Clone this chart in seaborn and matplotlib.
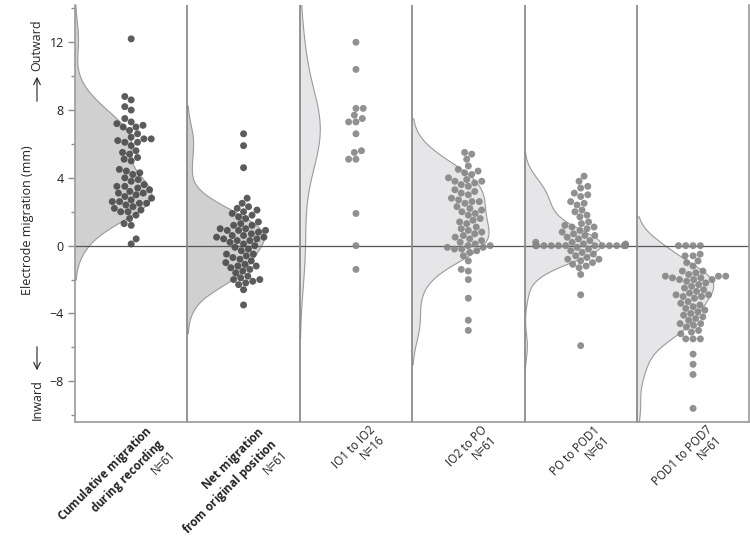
"""Electrode migration per interval: half violins with swarm points."""

import matplotlib
matplotlib.use("Agg")
import matplotlib.pyplot as plt
from matplotlib.patches import Rectangle
from matplotlib.ticker import MultipleLocator
from matplotlib.transforms import ScaledTranslation
import numpy as np
import pandas as pd
import seaborn as sns

# values (mm)
cumulative = [12.2, 8.8, 8.6, 8.2, 8.0, 7.5, 7.3, 7.2, 7.1, 7.0, 7.0, 6.8, 6.6, 6.4, 6.3,
              6.3, 6.2, 6.1, 6.1, 5.9, 5.6, 5.5, 5.4, 5.2, 5.1, 5.0, 4.5, 4.4, 4.3, 4.2,
              4.0, 3.9, 3.8, 3.6, 3.5, 3.5, 3.4, 3.3, 3.2, 3.1, 3.1, 3.0, 2.9, 2.8, 2.7,
              2.6, 2.6, 2.5, 2.5, 2.4, 2.3, 2.2, 2.1, 2.0, 2.0, 1.8, 1.6, 1.3, 1.2, 0.4, 0.1]
net = [6.6, 5.9, 4.6, 2.8, 2.5, 2.3, 2.2, 2.1, 2.0, 1.9, 1.8, 1.7, 1.6, 1.4, 1.3, 1.2,
       1.2, 1.0, 1.0, 0.9, 0.9, 0.9, 0.8, 0.7, 0.6, 0.6, 0.5, 0.5, 0.4, 0.4, 0.3, 0.3,
       0.2, 0.1, 0.0, -0.1, -0.2, -0.3, -0.5, -0.5, -0.6, -0.7, -0.8, -0.9, -1.0, -1.1,
       -1.2, -1.2, -1.3, -1.4, -1.5, -1.6, -1.8, -1.9, -2.0, -2.0, -2.1, -2.2, -2.3,
       -2.6, -3.5]
io1_io2 = [12.0, 10.4, 8.1, 8.1, 7.7, 7.5, 7.3, 7.3, 6.6, 5.6, 5.5, 5.1, 5.1, 1.9, 0.0, -1.4]
io2_po = [5.5, 5.4, 5.1, 4.7, 4.5, 4.4, 4.3, 4.2, 4.0, 3.9, 3.8, 3.8, 3.7, 3.6, 3.5, 3.3,
          3.2, 3.1, 3.0, 2.8, 2.7, 2.6, 2.6, 2.5, 2.3, 2.2, 2.1, 2.0, 1.9, 1.8, 1.6, 1.5,
          1.4, 1.3, 1.1, 1.0, 0.9, 0.8, 0.7, 0.6, 0.5, 0.4, 0.3, 0.2, 0.1, 0.0, 0.0, -0.1,
          -0.1, -0.2, -0.2, -0.3, -0.4, -0.6, -0.9, -1.4, -1.5, -2.0, -3.1, -4.4, -5.0]
po_pod1 = [4.1, 3.8, 3.5, 3.4, 3.1, 3.0, 2.9, 2.6, 2.5, 2.4, 2.1, 2.0, 1.8, 1.7, 1.4, 1.3,
           1.2, 1.1, 1.1, 1.0, 0.9, 0.8, 0.7, 0.6, 0.6, 0.5, 0.4, 0.3, 0.2, 0.2, 0.1, 0.1,
           0.0, 0.0, 0.0, 0.0, 0.0, 0.0, 0.0, 0.0, 0.0, 0.0, 0.0, 0.0,
           -0.1, -0.2, -0.3, -0.4, -0.5, -0.6, -0.7, -0.8, -0.8, -0.9, -1.0, -1.1, -1.2,
           -1.3, -1.7, -2.9, -5.9]
pod1_pod7 = [0.0, 0.0, 0.0, 0.0, -0.5, -0.6, -0.6, -0.9, -1.0, -1.2, -1.5, -1.5, -1.6, -1.7,
             -1.8, -1.8, -1.8, -1.9, -1.9, -2.0, -2.0, -2.0, -2.1, -2.2, -2.3, -2.4, -2.5,
             -2.6, -2.7, -2.8, -2.9, -2.9, -3.0, -3.0, -3.1, -3.3, -3.4, -3.5, -3.6, -3.7,
             -3.8, -3.9, -4.0, -4.1, -4.2, -4.3, -4.4, -4.6, -4.6, -4.7, -4.8, -5.0, -5.1,
             -5.2, -5.5, -5.5, -5.5, -6.4, -7.0, -7.6, -9.6]

names = [
    r"$\mathbf{Cumulative\ migration}$" + "\n" + r"$\mathbf{during\ recording}$",
    r"$\mathbf{Net\ migration}$" + "\n" + r"$\mathbf{from\ original\ position}$",
    "IO1 to IO2",
    "IO2 to PO",
    "PO to POD1",
    "POD1 to POD7",
]
shades = ["dark", "dark", "light", "light", "light", "light"]
fill_colors = {"dark": "#d0d0d0", "light": "#e6e6e8"}
dot_colors = {"dark": "#4a4a4a", "light": "#858585"}

series = [cumulative, net, io1_io2, io2_po, po_pod1, pod1_pod7]

rows = []
for pos, (vals, shade) in enumerate(zip(series, shades)):
    for v in vals:
        rows.append({"pos": pos, "edge": pos - 0.5, "shade": shade, "mm": v})
df = pd.DataFrame(rows)
labels = [f"{n}\nN={len(s)}" for n, s in zip(names, series)]

YLIM = (-10.4, 14.2)

sns.set_theme(style="ticks")
plt.rcParams["font.family"] = ["Open Sans", "DejaVu Sans"]
plt.rcParams["mathtext.fontset"] = "custom"
plt.rcParams["mathtext.rm"] = "Open Sans"
plt.rcParams["mathtext.bf"] = "Open Sans:bold"

fig = plt.figure(figsize=(7.5, 5.53), dpi=100)
ax = fig.add_axes([0.1, 0.237, 0.899, 0.754])

# full violins centred on each panel's left border, then clipped to the panel
n_before = len(ax.collections)
sns.violinplot(
    data=df, x="edge", y="mm", orient="x", native_scale=True, inner=None,
    density_norm="count", width=1.36, linewidth=0.8, linecolor="#9a9a9a", cut=2,
    color="#e6e6e8", saturation=1, ax=ax,
)
for pos, (coll, shade) in enumerate(zip(ax.collections[n_before:], shades)):
    coll.set_facecolor(fill_colors[shade])
    clip = Rectangle((pos - 0.5, YLIM[0]), 1, YLIM[1] - YLIM[0], transform=ax.transData)
    coll.set_clip_path(clip)

sns.swarmplot(
    data=df, x="pos", y="mm", hue="shade", palette=dot_colors, orient="x",
    native_scale=True, size=5, alpha=0.9, linewidth=0, legend=False, ax=ax, zorder=3,
)

ax.axhline(0, color="#555555", lw=0.9, zorder=2.5)
for x in np.arange(0.5, len(series) - 0.5):
    ax.axvline(x, color="#8c8c8c", lw=1.3, zorder=4)

ax.set_xlim(-0.5, len(series) - 0.5)
ax.set_ylim(*YLIM)
ax.set_yticks([-8, -4, 0, 4, 8, 12])
ax.yaxis.set_minor_locator(MultipleLocator(2))
ax.tick_params(axis="y", which="major", length=5, width=1, color="#8c8c8c", labelsize=9,
               labelcolor="#222222", pad=3)
ax.tick_params(axis="y", which="minor", length=3, width=1, color="#8c8c8c", left=True)
ax.set_xticks(np.arange(len(series)))
ax.set_xticklabels(labels, rotation=45, ha="right", va="top", rotation_mode="anchor",
                   fontsize=8.3, color="#222222", linespacing=1.05)
ax.tick_params(axis="x", length=0, pad=1)
shift = ScaledTranslation(9 / 72, 0, fig.dpi_scale_trans)
for lab in ax.get_xticklabels():
    lab.set_transform(lab.get_transform() + shift)
ax.set_xlabel("")
ax.set_ylabel("Electrode migration (mm)", fontsize=9, color="#222222")
ax.yaxis.set_label_coords(-0.061, 0.484)

for side in ["left", "right", "bottom"]:
    ax.spines[side].set_color("#9a9a9a")
    ax.spines[side].set_linewidth(1.2)
ax.spines["top"].set_visible(False)

# direction hints beside the y axis
fig.text(37 / 750, 1 - 45 / 553, "Outward", rotation=90, ha="center", va="center", fontsize=9)
fig.text(37 / 750, 1 - 400 / 553, "Inward", rotation=90, ha="center", va="center", fontsize=9)
ax.annotate("", xy=(37, 553 - 74), xycoords="figure pixels", xytext=(37, 553 - 104),
            arrowprops=dict(arrowstyle="->", color="#222222", lw=0.8))
ax.annotate("", xy=(37, 553 - 373), xycoords="figure pixels", xytext=(37, 553 - 344),
            arrowprops=dict(arrowstyle="->", color="#222222", lw=0.8))

fig.savefig("out.png", dpi=100)
plt.close("all")
